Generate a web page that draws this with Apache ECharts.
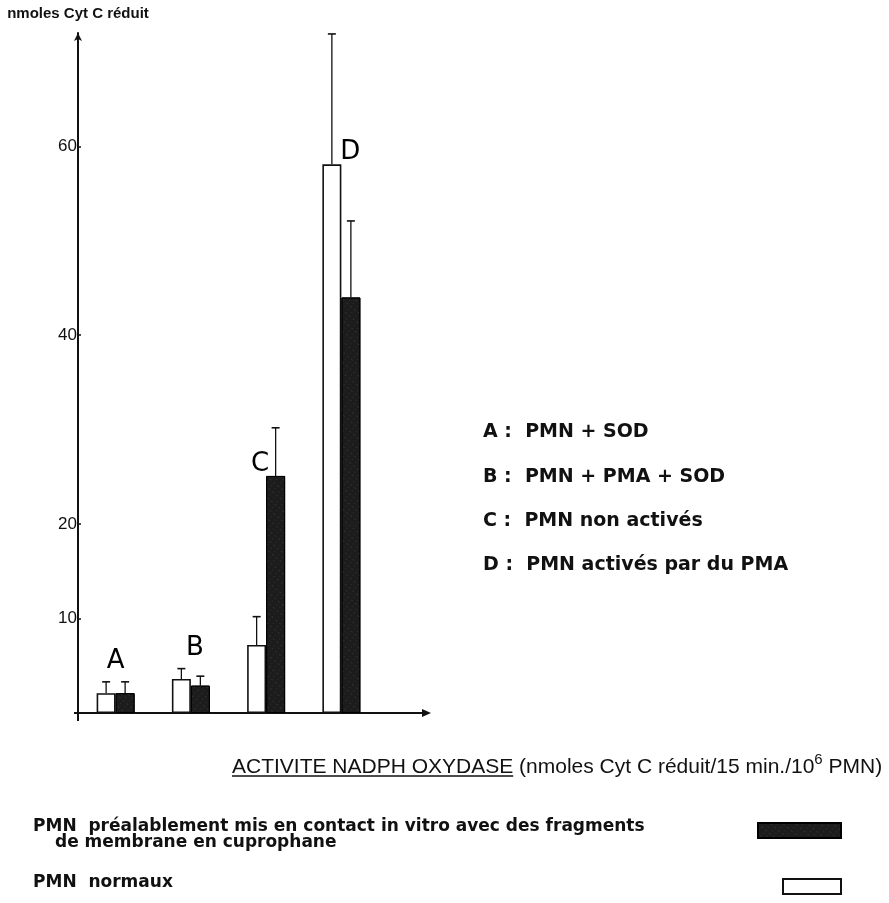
<!DOCTYPE html>
<html>
<head>
<meta charset="utf-8">
<script src="https://cdn.jsdelivr.net/npm/echarts@6/dist/echarts.min.js"></script>
<style>
html,body{margin:0;padding:0;background:#fff;}
#chart{width:889px;height:903px;}
</style>
</head>
<body>
<div id="chart"></div>
<script>
// ---- data ----
const categories = ['A', 'B', 'C', 'D'];
const normaux = [2.1, 3.6, 7.2, 58.1];          // PMN normaux (white bars)
const normauxTop = [3.3, 4.7, 10.2, 71.9];      // top of error bars
const cupro = [2.1, 2.9, 25.1, 44.0];           // PMN + cuprophane (dark bars)
const cuproTop = [3.3, 3.9, 30.2, 52.1];        // top of error bars
const letterLevels = [5.5, 6.9, 26.3, 59.4];    // where group letters sit
const yTickValues = [10, 20, 40, 60];
const yName = 'nmoles Cyt C réduit';
const groupLegend = ['A :  PMN + SOD', 'B :  PMN + PMA + SOD', 'C :  PMN non activés', 'D :  PMN activés par du PMA'];
const cuproLabel = ['PMN  préalablement mis en contact in vitro avec des fragments', 'de membrane en cuprophane'];
const normauxLabel = 'PMN  normaux';
const titleMain = 'ACTIVITE NADPH OXYDASE';
const titleRest = ' (nmoles Cyt C réduit/15 min./10';
const titleSup = '6';
const titleEnd = ' PMN)';

// ---- layout ----
const GRID = {left: 78, top: 33, width: 301, bottom: 190};
const BAR_W = 19;
const INK = '#111';

const chart = echarts.init(document.getElementById('chart'));

function measure(text, font) {
  const c = document.createElement('canvas').getContext('2d');
  c.font = font;
  return c.measureText(text).width;
}

function errSeries(name, vals, tops, side) {
  return {
    type: 'custom', name: name, z: 4,
    data: vals.map((v, i) => [i, v, tops[i]]),
    encode: {x: 0, y: [1, 2]},
    renderItem: function (params, api) {
      const p0 = api.coord([api.value(0), api.value(1)]);
      const p1 = api.coord([api.value(0), api.value(2)]);
      const x = p0[0] + side * BAR_W / 2;
      return {
        type: 'group',
        children: [
          {type: 'line', shape: {x1: x, y1: p0[1], x2: x, y2: p1[1]}, style: {stroke: INK, lineWidth: 1.3}},
          {type: 'line', shape: {x1: x - 4, y1: p1[1], x2: x + 4, y2: p1[1]}, style: {stroke: INK, lineWidth: 1.6}}
        ]
      };
    }
  };
}

const cuproName = cuproLabel.join(' ');
const titleFont = '21px "Liberation Sans"';
const titleLeft = 232, titleTop = 752;
const underlineW = measure(titleMain, titleFont);

const letterOffsets = [[0, 0], [4, 0], [-6, 0], [9, 0]];

const gridRight = GRID.left + GRID.width;
const axisY = 903 - GRID.bottom;

const richBase = {fontFamily: 'Liberation Sans', fontSize: 21, fontWeight: 'normal', color: INK, verticalAlign: 'bottom', lineHeight: 26};

const option = {
  backgroundColor: '#fff',
  animation: false,
  grid: {left: GRID.left, top: GRID.top, width: GRID.width, bottom: GRID.bottom, containLabel: false},
  xAxis: {
    type: 'category', data: categories,
    axisLine: {show: true, lineStyle: {color: INK, width: 2}},
    axisTick: {show: false}, axisLabel: {show: false}, splitLine: {show: false}
  },
  yAxis: {
    type: 'value', min: 0, max: 72,
    name: yName, nameLocation: 'end', nameGap: 12,
    nameTextStyle: {fontFamily: 'Liberation Sans', fontSize: 15, fontWeight: 'bold', color: INK, align: 'center'},
    axisLine: {show: true, symbol: ['none', 'arrow'], symbolSize: [6, 8], lineStyle: {color: INK, width: 2}},
    axisTick: {show: true, inside: true, length: 3, customValues: yTickValues, lineStyle: {color: INK, width: 1.5}},
    axisLabel: {show: true, customValues: yTickValues, margin: 1, fontFamily: 'Liberation Sans', fontSize: 17, color: INK},
    splitLine: {show: false}
  },
  legend: [
    {data: [cuproName], left: 752, top: 817, itemWidth: 83, itemHeight: 15, icon: 'rect', selectedMode: false, formatter: () => '', textStyle: {fontSize: 1}},
    {data: [normauxLabel], left: 777, top: 873, itemWidth: 58, itemHeight: 15, icon: 'rect', selectedMode: false, formatter: () => '', textStyle: {fontSize: 1}}
  ],
  title: [
    {
      text: '{m|' + titleMain + '}{r|' + titleRest + '}{s|' + titleSup + '}{r|' + titleEnd + '}',
      left: titleLeft, top: titleTop, padding: 0,
      textStyle: {
        fontWeight: 'normal', fontFamily: 'Liberation Sans', fontSize: 21,
        rich: {
          m: richBase,
          r: richBase,
          s: {fontFamily: 'Liberation Sans', fontSize: 15, fontWeight: 'normal', color: INK, verticalAlign: 'top', lineHeight: 14}
        }
      }
    },
    {text: cuproLabel[0], left: 33, top: 818, padding: 0, textStyle: {fontFamily: 'DejaVu Sans', fontWeight: 'bold', fontSize: 17, color: INK}},
    {text: cuproLabel[1], left: 55, top: 834, padding: 0, textStyle: {fontFamily: 'DejaVu Sans', fontWeight: 'bold', fontSize: 17, color: INK}},
    {text: normauxLabel, left: 33, top: 874, padding: 0, textStyle: {fontFamily: 'DejaVu Sans', fontWeight: 'bold', fontSize: 17, color: INK}}
  ].concat(groupLegend.map((t, i) => ({
    text: t, left: 483, top: 423 + i * 44.3, padding: 0,
    textStyle: {fontFamily: 'DejaVu Sans', fontWeight: 'bold', fontSize: 19, color: INK}
  }))),
  graphic: [
    {type: 'line', shape: {x1: titleLeft, y1: titleTop + 24, x2: titleLeft + underlineW, y2: titleTop + 24}, style: {stroke: INK, lineWidth: 1.4}},
    {type: 'line', shape: {x1: gridRight - 1, y1: axisY, x2: 424, y2: axisY}, style: {stroke: INK, lineWidth: 2}},
    {type: 'polygon', shape: {points: [[422, axisY - 4], [431, axisY], [422, axisY + 4]]}, style: {fill: INK}},
    {type: 'line', shape: {x1: GRID.left - 4, y1: axisY, x2: GRID.left, y2: axisY}, style: {stroke: INK, lineWidth: 2}},
    {type: 'line', shape: {x1: GRID.left, y1: axisY, x2: GRID.left, y2: axisY + 8}, style: {stroke: INK, lineWidth: 2}}
  ],
  series: [
    {
      name: normauxLabel, type: 'bar', data: normaux, barWidth: BAR_W, barGap: '0%',
      itemStyle: {color: '#fff', borderColor: INK, borderWidth: 1.6}
    },
    {
      name: cuproName, type: 'bar', data: cupro, barWidth: BAR_W, barGap: '0%',
      itemStyle: {
        color: '#1c1c1c', borderColor: '#000', borderWidth: 1,
        decal: {symbol: 'rect', symbolSize: 0.6, color: 'rgba(200,200,200,0.4)', dashArrayX: [[1, 4], [2, 3]], dashArrayY: [1, 3], rotation: 0.7}
      }
    },
    errSeries('err-normaux', normaux, normauxTop, -1),
    errSeries('err-cupro', cupro, cuproTop, 1),
    {
      type: 'scatter', name: 'letters', symbolSize: 0, z: 5,
      data: categories.map((c, i) => ({
        value: [c, letterLevels[i]],
        label: {offset: letterOffsets[i]}
      })),
      label: {show: true, position: 'inside', formatter: p => p.value[0], fontFamily: 'DejaVu Sans', fontSize: 26, color: '#000', textBorderWidth: 0, opacity: 1},
      itemStyle: {color: '#000'},
      silent: true
    }
  ]
};
chart.setOption(option);
</script>
</body>
</html>
